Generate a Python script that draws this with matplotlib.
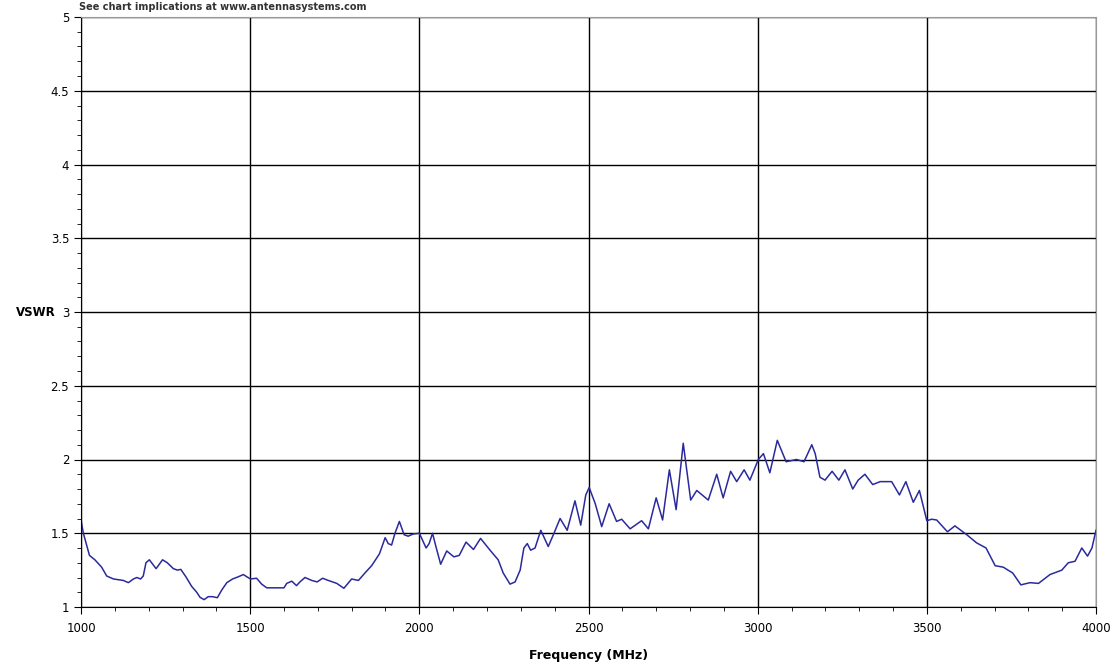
import numpy as np
import matplotlib.pyplot as plt
from matplotlib.ticker import MultipleLocator

# VSWR sweep
freq = [1000, 1007, 1025, 1041, 1061, 1076, 1096, 1125, 1140, 1155, 1165, 1176, 1184,
        1192, 1202, 1222, 1241, 1255, 1273, 1285, 1295, 1310, 1327, 1342, 1352, 1364,
        1376, 1389, 1403, 1416, 1431, 1448, 1465, 1480, 1490, 1501, 1519, 1534, 1549,
        1600, 1608, 1623, 1637, 1647, 1662, 1682, 1698, 1714, 1731, 1756, 1777, 1800,
        1820, 1839, 1859, 1882, 1899, 1908, 1918, 1928, 1941, 1955, 1967, 1982, 2000,
        2020, 2029, 2039, 2049, 2063, 2081, 2102, 2118, 2138, 2160, 2181, 2209, 2233,
        2248, 2268, 2283, 2298, 2309, 2319, 2329, 2342, 2359, 2381, 2398, 2416, 2437,
        2460, 2477, 2492, 2502, 2520, 2539, 2561, 2583, 2598, 2623, 2657, 2677, 2700,
        2719, 2739, 2759, 2780, 2802, 2820, 2854, 2879, 2898, 2920, 2938, 2960, 2977,
        3002, 3017, 3036, 3058, 3084, 3115, 3137, 3160, 3170, 3184, 3199, 3220, 3240,
        3258, 3281, 3297, 3317, 3340, 3362, 3396, 3419, 3438, 3460, 3478, 3500, 3514,
        3529, 3561, 3583, 3618, 3647, 3675, 3702, 3726, 3754, 3778, 3805, 3830, 3864,
        3899, 3918, 3938, 3958, 3975, 3988, 4000]
vswr = [1.59, 1.50, 1.35, 1.32, 1.27, 1.21, 1.19, 1.18, 1.165, 1.19, 1.20, 1.19, 1.21,
        1.30, 1.32, 1.26, 1.32, 1.30, 1.26, 1.25, 1.255, 1.205, 1.14, 1.10, 1.065, 1.05,
        1.07, 1.07, 1.063, 1.115, 1.165, 1.19, 1.205, 1.22, 1.205, 1.19, 1.195, 1.155, 1.13,
        1.13, 1.16, 1.175, 1.145, 1.17, 1.20, 1.18, 1.17, 1.195, 1.18, 1.16, 1.127, 1.19,
        1.18, 1.23, 1.28, 1.36, 1.47, 1.43, 1.42, 1.50, 1.58, 1.49, 1.48, 1.495, 1.50,
        1.40, 1.43, 1.50, 1.41, 1.29, 1.38, 1.34, 1.35, 1.44, 1.39, 1.465, 1.385, 1.32,
        1.23, 1.155, 1.17, 1.25, 1.40, 1.43, 1.385, 1.40, 1.52, 1.41, 1.50, 1.60, 1.52,
        1.72, 1.555, 1.76, 1.81, 1.70, 1.545, 1.70, 1.58, 1.595, 1.53, 1.585, 1.53, 1.74,
        1.59, 1.93, 1.66, 2.11, 1.725, 1.79, 1.725, 1.90, 1.74, 1.92, 1.85, 1.93, 1.86,
        2.00, 2.04, 1.91, 2.13, 1.985, 2.00, 1.985, 2.10, 2.04, 1.88, 1.86, 1.92, 1.86,
        1.93, 1.80, 1.86, 1.90, 1.83, 1.85, 1.85, 1.76, 1.85, 1.71, 1.79, 1.585, 1.595,
        1.59, 1.51, 1.55, 1.49, 1.435, 1.40, 1.28, 1.27, 1.23, 1.15, 1.165, 1.16, 1.22,
        1.25, 1.30, 1.31, 1.40, 1.345, 1.40, 1.52]

fig = plt.figure(figsize=(11.14, 6.67), dpi=100)
ax = fig.add_axes([81/1114, 1 - 607/667, (1096 - 81)/1114, (607 - 17)/667])

ax.plot(freq, vswr, color='#2a2a9c', linewidth=1.1)

ax.set_xlim(1000, 4000)
ax.set_ylim(1, 5)
ax.xaxis.set_major_locator(MultipleLocator(500))
ax.xaxis.set_minor_locator(MultipleLocator(100))
ax.yaxis.set_major_locator(MultipleLocator(0.5))
ax.yaxis.set_minor_locator(MultipleLocator(0.1))
ax.set_yticks([1, 1.5, 2, 2.5, 3, 3.5, 4, 4.5, 5])
ax.set_yticklabels(['1', '1.5', '2', '2.5', '3', '3.5', '4', '4.5', '5'])

ax.grid(True, which='major', color='black', linewidth=1.0)
ax.tick_params(which='major', direction='out', length=5, labelsize=8.5, colors='black')
ax.tick_params(which='minor', direction='out', length=3)
ax.tick_params(axis='x', pad=6)

for s in ['top', 'right']:
    ax.spines[s].set_color('#999999')

ax.set_xlabel('Frequency (MHz)', fontsize=9, fontweight='bold', labelpad=10)
ax.set_ylabel('VSWR', fontsize=8.5, fontweight='bold', rotation=0, labelpad=14, va='center')
ax.yaxis.set_label_coords(-0.045, 0.5)

fig.text(223/1114, 1 - 7/667, 'See chart implications at www.antennasystems.com',
         ha='center', va='center', fontsize=7, fontweight='bold', color='#333333')

fig.savefig('out.png', dpi=100)
